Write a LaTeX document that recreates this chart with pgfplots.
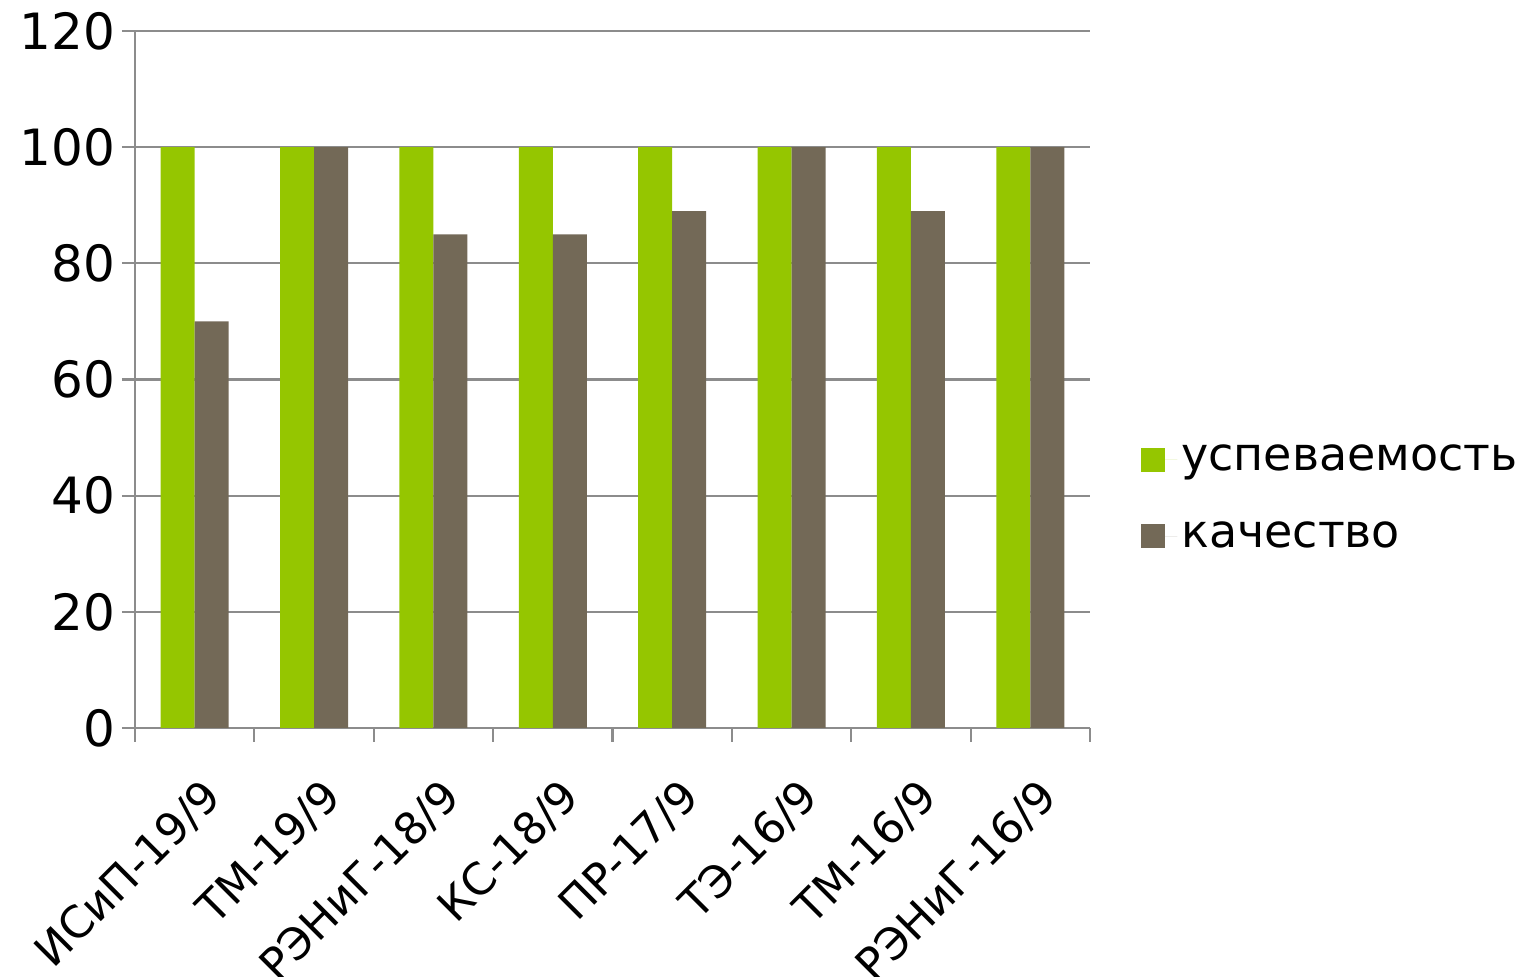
\documentclass[border=0pt]{standalone}
\usepackage{fontspec}
\setmainfont{DejaVu Sans}
\usepackage{pgfplots}
\pgfplotsset{compat=1.18}
\definecolor{cgreen}{HTML}{95C600}
\definecolor{cbrown}{HTML}{736957}
\definecolor{cgrid}{HTML}{8C8C8C}
\begin{document}
\begin{tikzpicture}
\useasboundingbox (-67.5pt,-124.5pt) rectangle (702.5pt,364pt);
\begin{axis}[
  at={(0,0)}, anchor=south west,
  scale only axis, width=477.5pt, height=348.5pt,
  ybar=0pt, bar width=17pt,
  xmin=0.5, xmax=8.5, ymin=0, ymax=120,
  ytick={0,20,...,120},
  xtick={1,...,8},
  xticklabels={ИСиП-19/9, ТМ-19/9, РЭНиГ-18/9, КС-18/9, ПР-17/9, ТЭ-16/9, ТМ-16/9, РЭНиГ-16/9},
  minor xtick={0.5,1.5,...,8.5},
  major x tick style={draw=none},
  minor tick length=7pt,
  major tick length=6.5pt,
  tick align=outside,
  axis x line*=bottom, axis y line*=left,
  axis line style={cgrid, line width=1.1pt, -},
  tick style={cgrid, line width=1.1pt},
  ymajorgrids, grid style={cgrid, line width=1.1pt},
  /pgf/number format/assume math mode=true,
  ticklabel style={font=\fontsize{25}{30}\selectfont, text=black},
  xticklabel style={font=\fontsize{22}{26}\selectfont, rotate=45, anchor=north east, xshift=-7pt, yshift=-11pt},
  legend style={draw=none, fill=none, at={(1.047,0.33)}, anchor=west,
    font=\fontsize{23}{28}\selectfont, row sep=20pt},
  legend image code/.code={\fill[#1] (0pt,-6pt) rectangle (12pt,6pt); \path (0pt,0pt) -- (18pt,0pt);},
  legend cell align=left,
]
\addplot[fill=cgreen, draw=none] coordinates {(1,100) (2,100) (3,100) (4,100) (5,100) (6,100) (7,100) (8,100)};
\addplot[fill=cbrown, draw=none] coordinates {(1,70) (2,100) (3,85) (4,85) (5,89) (6,100) (7,89) (8,100)};
\legend{успеваемость, качество}
\end{axis}
\end{tikzpicture}
\end{document}
